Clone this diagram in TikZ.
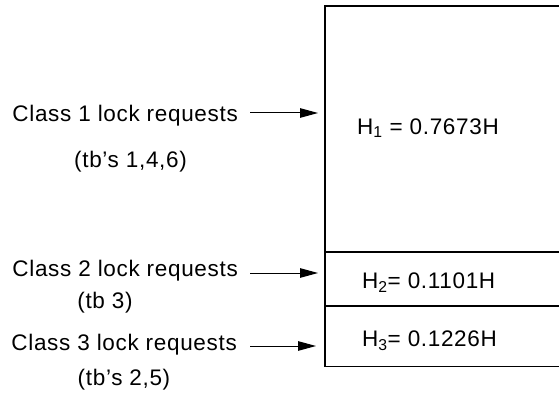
\documentclass[tikz,border=0pt]{standalone}
\usepackage{fontspec}
\setmainfont{Liberation Sans}[LetterSpace=3]
\usetikzlibrary{arrows.meta, positioning}

\tikzset{
  req/.style={anchor=base east, inner sep=0pt, font=\fontsize{22.5}{25}\selectfont},
  tbs/.style={anchor=base, inner sep=0pt, font=\fontsize{22.5}{25}\selectfont},
  hval/.style={anchor=base west, inner sep=0pt, font=\fontsize{22.5}{25}\selectfont},
  feed/.style={line width=1pt, -{Triangle[length=18pt,width=9.5pt]}},
  wall/.style={line width=1.2pt}
}
\newcommand{\hsub}[1]{H\textsubscript{#1}}

\begin{document}
\begin{tikzpicture}[x=1pt, y=1pt]
  \useasboundingbox (0,0) rectangle (559,397);

  % the lock table
  \coordinate (tl) at (325,391);
  \coordinate (tr) at (559,391);
  \coordinate (bl) at (325,30.5);
  \coordinate (br) at (559,30.5);
  \coordinate (s1l) at (325,145);
  \coordinate (s1r) at (559,145);
  \coordinate (s2l) at (325,91);
  \coordinate (s2r) at (559,91);
  \draw[wall] (tr) -- (tl) -- (bl) -- (br);
  \draw[wall] (s1l) -- (s1r);
  \draw[wall] (s2l) -- (s2r);

  \node[hval] (h1) at (357,262.7) {\hsub{1} = 0.7673H};
  \node[hval] (h2) at (362,108.7) {\hsub{2}= 0.1101H};
  \node[hval] (h3) at (362,50.3) {\hsub{3}= 0.1226H};

  % requests
  \node[req] (c1) at (238,276) {Class 1 lock requests};
  \node[tbs] (t1) at (130.5,230) {(tb’s 1,4,6)};
  \node[req] (c2) at (238,120.3) {Class 2 lock requests};
  \node[tbs] (t2) at (105,89) {(tb 3)};
  \node[req] (c3) at (237,47) {Class 3 lock requests};
  \node[tbs] (t3) at (124,12) {(tb’s 2,5)};

  \coordinate (a1) at (318,284);
  \coordinate (a2) at (318,124);
  \coordinate (a3) at (316,51);

  \draw[feed] ([xshift=12pt]c1.east |- a1) -- (a1);
  \draw[feed] ([xshift=12pt]c2.east |- a2) -- (a2);
  \draw[feed] ([xshift=13pt]c3.east |- a3) -- (a3);
\end{tikzpicture}
\end{document}
